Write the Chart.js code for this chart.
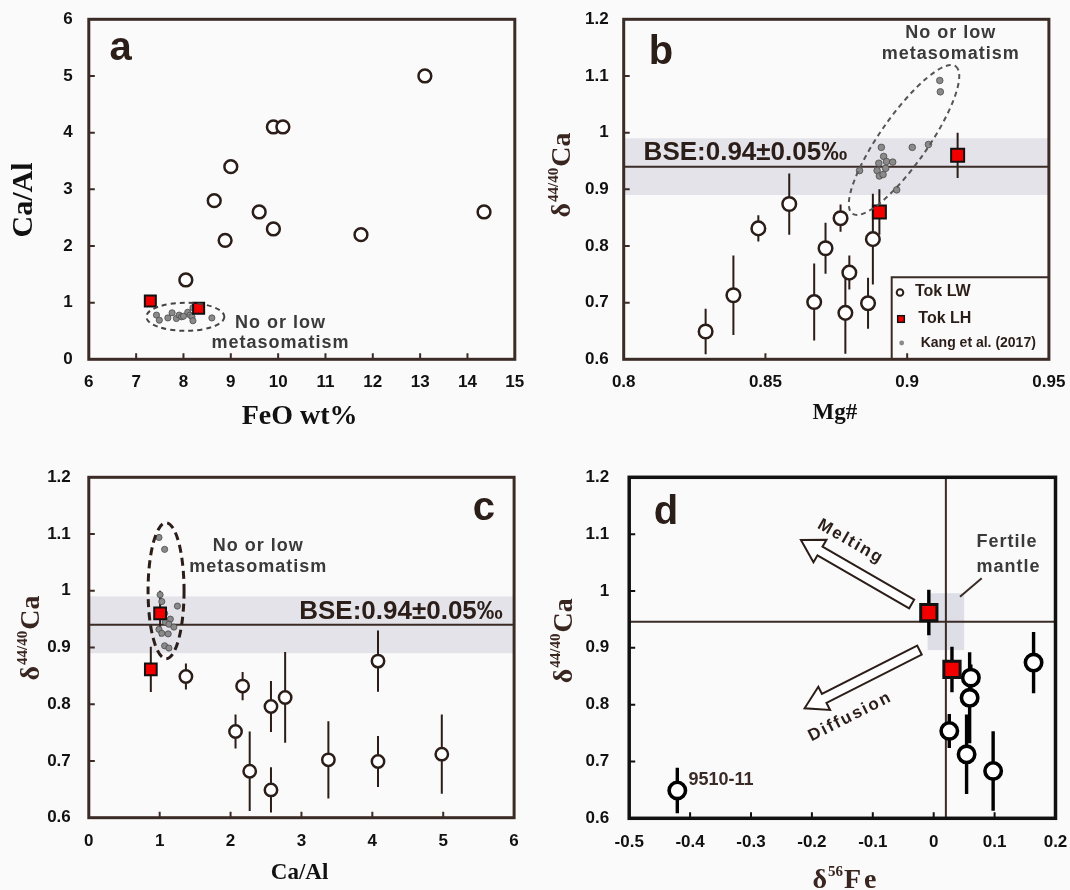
<!DOCTYPE html>
<html><head><meta charset="utf-8">
<script src="https://cdn.jsdelivr.net/npm/chart.js@4.4.1/dist/chart.umd.min.js"></script>
<style>
html,body{margin:0;padding:0;background:#fafafa;}
#wrap{position:relative;width:1070px;height:890px;overflow:hidden;background:#fafafa;}
canvas{position:absolute;}
</style></head><body>
<div id="wrap">
<canvas id="ca" width="535" height="445" style="left:0px;top:0px"></canvas>
<canvas id="cb" width="535" height="445" style="left:535px;top:0px"></canvas>
<canvas id="cc" width="535" height="445" style="left:0px;top:445px"></canvas>
<canvas id="cd" width="535" height="445" style="left:535px;top:445px"></canvas>
</div>
<script>
// ================= DATA =================
// Panel a : Ca/Al vs FeO wt%
const aXTicks=[6,7,8,9,10,11,12,13,14,15];
const aYTicks=[0,1,2,3,4,5,6];
const aLWFeO =[13.1,9.9,10.1,9.0,8.65,9.6,9.9,8.88,11.75,14.35,8.05];
const aLWCaAl=[5.0,4.1,4.1,3.4,2.8,2.6,2.3,2.1,2.2,2.6,1.4];
const aLHFeO =[7.3,8.32];
const aLHCaAl=[1.03,0.9];
const aKgFeO =[7.43,7.49,7.67,7.76,7.85,7.91,7.96,8.09,8.14,8.18,8.2,8.2,8.6,8.0];
const aKgCaAl=[0.78,0.69,0.73,0.82,0.72,0.78,0.75,0.83,0.78,0.75,0.91,0.68,0.73,0.76];

// Panel b : d44/40Ca vs Mg#
const bXTicks=[0.8,0.85,0.9,0.95];
const bYTicks=[0.6,0.7,0.8,0.9,1,1.1,1.2];
const bLWMg =[0.8289,0.8387,0.8475,0.8584,0.8672,0.8712,0.8765,0.8796,0.8782,0.8862,0.8879];
const bLWCa =[0.649,0.713,0.831,0.874,0.701,0.796,0.849,0.753,0.682,0.699,0.812];
const bLWErr=[0.04,0.07,0.023,0.054,0.068,0.045,0.024,0.03,0.072,0.045,0.08];
const bLHMg =[0.8902,0.9178];
const bLHCa =[0.86,0.96];
const bLHErr=[0.04,0.04];
const bKgMg =[0.9115,0.9117,0.8832,0.8909,0.8917,0.89,0.8927,0.8949,0.8894,0.8902,0.8915,0.8924,0.8963,0.9018,0.9075];
const bKgCa =[1.092,1.072,0.933,0.974,0.958,0.946,0.949,0.948,0.933,0.9235,0.926,0.937,0.899,0.974,0.979];

// Panel c : d44/40Ca vs Ca/Al
const cXTicks=[0,1,2,3,4,5,6];
const cYTicks=[0.6,0.7,0.8,0.9,1,1.1,1.2];
const cLWCaAl=[1.37,2.17,2.07,2.27,2.57,2.57,2.77,3.38,4.08,4.08,4.98];
const cLWCa  =[0.849,0.832,0.752,0.682,0.796,0.649,0.812,0.702,0.876,0.699,0.712];
const cLWErr =[0.023,0.025,0.03,0.07,0.045,0.04,0.08,0.068,0.054,0.045,0.07];
const cLHCaAl=[0.875,1.006];
const cLHCa  =[0.8615,0.96];
const cLHErr =[0.04,0.04];
const cKgCaAl=[0.99,1.07,1.006,1.03,1.07,1.25,1.15,1.08,1.13,0.99,1.03,1.12,1.2,1.07,1.13];
const cKgCa  =[1.094,1.073,0.993,0.981,0.96,0.973,0.95,0.945,0.941,0.932,0.925,0.924,0.936,0.903,0.899];

// Panel d : d44/40Ca vs d56Fe
const dXTicks=[-0.5,-0.4,-0.3,-0.2,-0.1,0,0.1,0.2];
const dYTicks=[0.6,0.7,0.8,0.9,1,1.1,1.2];
const dLWFe =[-0.421,0.0256,0.061,0.059,0.054,0.0976,0.164];
const dLWCa =[0.649,0.7537,0.8475,0.812,0.7126,0.6833,0.874];
const dLWErr=[0.04,0.03,0.023,0.08,0.07,0.07,0.054];
const dLHFe =[-0.008,0.030];
const dLHCa =[0.962,0.862];
const dLHErr=[0.04,0.04];

// reference values
const bseValue=0.94, bseLow=0.89, bseHigh=0.99;
const fertileFe=0.02, fertileCa=0.946;
const fertileBox=[-0.01,0.05,0.896,0.996];

// ================= STYLE / HELPERS =================
const SANS="'Liberation Sans', Arial, Helvetica, sans-serif";
const SERIF="'Liberation Serif', 'Times New Roman', Times, serif";
const BROWN='#3b2b26', DARK='#2b1d18', TXT='#3a3a3a', BAND='#e3e3e9';

function P(xs,ys){return xs.map((x,i)=>({x:x,y:ys[i]}));}
function lwSet(xs,ys,r,bw,col){return {label:'Tok LW',data:P(xs,ys),pointStyle:'circle',pointRadius:r,pointHoverRadius:r,backgroundColor:'#ffffff',borderColor:col,borderWidth:bw,order:2};}
function lhSet(xs,ys,r,bw){return {label:'Tok LH',data:P(xs,ys),pointStyle:'rect',pointRadius:r,pointHoverRadius:r,backgroundColor:'#f20000',borderColor:'#111111',borderWidth:bw,order:1};}
function kgSet(xs,ys,r){return {label:'Kang et al. (2017)',data:P(xs,ys),pointStyle:'circle',pointRadius:r,pointHoverRadius:r,backgroundColor:'#8a8a8a',borderColor:'#4a4a4a',borderWidth:0.8,order:3};}

function txt(ctx,s,x,y,font,color,align,ls,rot){
  ctx.save();ctx.translate(x,y);if(rot)ctx.rotate(rot);
  ctx.font=font;ctx.fillStyle=color;ctx.textAlign=align||'center';ctx.textBaseline='middle';
  if(ls){try{ctx.letterSpacing=ls;}catch(e){}}
  ctx.fillText(s,0,0);ctx.restore();
}
function errBars(c,xs,ys,es,col,w){
  const ctx=c.ctx,X=c.scales.x,Y=c.scales.y;ctx.save();ctx.strokeStyle=col;ctx.lineWidth=w;ctx.beginPath();
  xs.forEach((x,i)=>{const p=X.getPixelForValue(x);ctx.moveTo(p,Y.getPixelForValue(ys[i]-es[i]));ctx.lineTo(p,Y.getPixelForValue(ys[i]+es[i]));});
  ctx.stroke();ctx.restore();
}
function frame(c,col,lw,xt,yt){
  const ctx=c.ctx,a=c.chartArea,X=c.scales.x,Y=c.scales.y;ctx.save();ctx.strokeStyle=col;ctx.lineWidth=2;ctx.beginPath();
  xt.forEach(v=>{const p=X.getPixelForValue(v);if(p>a.left+3&&p<a.right-3){ctx.moveTo(p,a.bottom);ctx.lineTo(p,a.bottom-6);}});
  yt.forEach(v=>{const p=Y.getPixelForValue(v);if(p>a.top+3&&p<a.bottom-3){ctx.moveTo(a.left,p);ctx.lineTo(a.left+6,p);}});
  ctx.stroke();ctx.lineWidth=lw;ctx.strokeRect(a.left,a.top,a.right-a.left,a.bottom-a.top);ctx.restore();
}
function band(c,y0,y1,col){const ctx=c.ctx,a=c.chartArea,Y=c.scales.y;const p0=Y.getPixelForValue(y1),p1=Y.getPixelForValue(y0);ctx.save();ctx.fillStyle=col;ctx.fillRect(a.left,p0,a.right-a.left,p1-p0);ctx.restore();}
function hline(c,y,col,w){const ctx=c.ctx,a=c.chartArea,p=c.scales.y.getPixelForValue(y);ctx.save();ctx.strokeStyle=col;ctx.lineWidth=w;ctx.beginPath();ctx.moveTo(a.left,p);ctx.lineTo(a.right,p);ctx.stroke();ctx.restore();}
function vline(c,x,col,w){const ctx=c.ctx,a=c.chartArea,p=c.scales.x.getPixelForValue(x);ctx.save();ctx.strokeStyle=col;ctx.lineWidth=w;ctx.beginPath();ctx.moveTo(p,a.top);ctx.lineTo(p,a.bottom);ctx.stroke();ctx.restore();}
function ellipse(c,cx,cy,rx,ry,rot,col,w,dash){
  const ctx=c.ctx;ctx.save();ctx.strokeStyle=col;ctx.lineWidth=w;ctx.setLineDash(dash);ctx.beginPath();
  ctx.ellipse(c.scales.x.getPixelForValue(cx),c.scales.y.getPixelForValue(cy),rx,ry,rot,0,Math.PI*2);ctx.stroke();ctx.restore();
}
function blockArrow(c,x0,y0,x1,y1,sw,hw,hl,col){
  const ctx=c.ctx,X=c.scales.x,Y=c.scales.y;
  const tx=X.getPixelForValue(x0),ty=Y.getPixelForValue(y0),px=X.getPixelForValue(x1),py=Y.getPixelForValue(y1);
  const L=Math.hypot(px-tx,py-ty),ux=(px-tx)/L,uy=(py-ty)/L,nx=-uy,ny=ux;
  const bx=px-ux*hl,by=py-uy*hl;
  ctx.save();ctx.beginPath();
  ctx.moveTo(tx+nx*sw,ty+ny*sw);ctx.lineTo(bx+nx*sw,by+ny*sw);ctx.lineTo(bx+nx*hw,by+ny*hw);ctx.lineTo(px,py);
  ctx.lineTo(bx-nx*hw,by-ny*hw);ctx.lineTo(bx-nx*sw,by-ny*sw);ctx.lineTo(tx-nx*sw,ty-ny*sw);ctx.closePath();
  ctx.fillStyle='#ffffff';ctx.fill();ctx.strokeStyle=col;ctx.lineWidth=2;ctx.lineJoin='miter';ctx.stroke();ctx.restore();
}
// title with superscript: delta + sup + rest
function deltaTitle(ctx,cx,cy,sup,rest,big,small,rotate,color,restSpacing){
  ctx.save();ctx.translate(cx,cy);if(rotate)ctx.rotate(-Math.PI/2);
  const fb=`bold ${big}px ${SERIF}`,fs=`bold ${small}px ${SERIF}`;
  ctx.fillStyle=color;ctx.textAlign='left';ctx.textBaseline='alphabetic';
  ctx.font=fb;const w1=ctx.measureText('\u03b4').width;
  try{ctx.letterSpacing=restSpacing||'0px';}catch(e){}
  const w3=ctx.measureText(rest).width;
  try{ctx.letterSpacing='0px';}catch(e){}
  ctx.font=fs;const w2=ctx.measureText(sup).width;
  let x=-(w1+w2+w3)/2;const base=big*0.33;
  ctx.font=fb;ctx.fillText('\u03b4',x,base);x+=w1;
  ctx.font=fs;ctx.fillText(sup,x+1,base-big*0.42);x+=w2+2;
  ctx.font=fb;try{ctx.letterSpacing=restSpacing||'0px';}catch(e){}
  ctx.fillText(rest,x,base);
  ctx.restore();
}

function makePanel(id,off,area,xr,yr,xt,yt,datasets,deco,pad,tickSize){
  const W=535,H=445;
  return new Chart(document.getElementById(id),{
    type:'scatter',
    data:{datasets:datasets},
    options:{
      responsive:false,animation:false,devicePixelRatio:1,
      layout:{padding:{left:0,top:area.T-off[1],right:W-(area.R-off[0]),bottom:0}},
      plugins:{legend:{display:false},tooltip:{enabled:false}},
      scales:{
        x:{type:'linear',min:xr[0],max:xr[1],grid:{display:false,drawTicks:false},border:{display:false},
           afterBuildTicks:s=>{s.ticks=xt.map(v=>({value:v}));},
           ticks:{padding:pad.x,color:'#111',autoSkip:false,maxRotation:0,font:{family:SANS,size:tickSize,weight:'bold'},callback:v=>String(v)},
           afterFit:s=>{s.height=H-(area.B-off[1]);s.paddingLeft=0;s.paddingRight=0;}},
        y:{type:'linear',min:yr[0],max:yr[1],grid:{display:false,drawTicks:false},border:{display:false},
           afterBuildTicks:s=>{s.ticks=yt.map(v=>({value:v}));},
           ticks:{padding:pad.y,color:'#111',autoSkip:false,font:{family:SANS,size:tickSize,weight:'bold'},callback:v=>String(v)},
           afterFit:s=>{s.width=area.L-off[0];s.paddingTop=0;s.paddingBottom=0;}}
      }
    },
    plugins:[deco]
  });
}

// ================= PANEL A =================
const offA=[0,0];
makePanel('ca',offA,{L:88.8,R:514.8,T:19.3,B:359.3},[6,15],[0,6],aXTicks,aYTicks,
  [kgSet(aKgFeO,aKgCaAl,3.1),lwSet(aLWFeO,aLWCaAl,6.4,2.5,DARK),lhSet(aLHFeO,aLHCaAl,7.8,2)],
  {id:'decoA',
   afterDatasetsDraw(c){
     const ctx=c.ctx;
     ellipse(c,8.04,0.75,39,14,0,'#444',2,[5,4]);
     frame(c,BROWN,3,aXTicks,aYTicks);
     ctx.save();ctx.translate(-offA[0],-offA[1]);
     txt(ctx,'a',120.5,49,`bold 40px ${SANS}`,DARK);
     txt(ctx,'No or low',280.6,322.7,`bold 18px ${SANS}`,TXT,'center','1px');
     txt(ctx,'metasomatism',280.6,342.7,`bold 18px ${SANS}`,TXT,'center','1px');
     txt(ctx,'Ca/Al',24,200,`bold 30px ${SERIF}`,'#111','center',null,-Math.PI/2);
     txt(ctx,'FeO wt%',299.6,416.7,`bold 28px ${SERIF}`,'#111','center');
     ctx.restore();
   }},
  {x:13,y:16},17);

// ================= PANEL B =================
const offB=[535,0];
makePanel('cb',offB,{L:623.7,R:1048.9,T:19.3,B:359.3},[0.8,0.95],[0.6,1.2],bXTicks,bYTicks,
  [kgSet(bKgMg,bKgCa,3.3),lwSet(bLWMg,bLWCa,6.8,2.5,DARK),lhSet(bLHMg,bLHCa,9.2,2)],
  {id:'decoB',
   beforeDatasetsDraw(c){
     band(c,bseLow,bseHigh,BAND);
     hline(c,bseValue,BROWN,2);
     errBars(c,bLWMg,bLWCa,bLWErr,DARK,2);
     errBars(c,bLHMg,bLHCa,bLHErr,DARK,2);
   },
   afterDatasetsDraw(c){
     const ctx=c.ctx;
     ellipse(c,0.8989,0.987,90,24,-55*Math.PI/180,'#555',2,[5,4]);
     frame(c,BROWN,3,bXTicks,bYTicks);
     ctx.save();ctx.translate(-offB[0],-offB[1]);
     txt(ctx,'b',660.9,53.3,`bold 40px ${SANS}`,DARK);
     txt(ctx,'BSE:0.94\u00b10.05\u2030',643.6,153.3,`bold 26px ${SANS}`,DARK,'left');
     txt(ctx,'No or low',950.8,33.3,`bold 18px ${SANS}`,TXT,'center','1px');
     txt(ctx,'metasomatism',950.8,54,`bold 18px ${SANS}`,TXT,'center','1px');
     // legend
     ctx.strokeStyle=BROWN;ctx.lineWidth=2;ctx.beginPath();ctx.moveTo(891.7,359.3);ctx.lineTo(891.7,277.3);ctx.lineTo(1048.9,277.3);ctx.stroke();
     ctx.beginPath();ctx.arc(900,292.5,3.3,0,Math.PI*2);ctx.fillStyle='#fff';ctx.fill();ctx.lineWidth=2;ctx.strokeStyle=DARK;ctx.stroke();
     txt(ctx,'Tok LW',915,292,`bold 16px ${SANS}`,DARK,'left');
     ctx.fillStyle='#f20000';ctx.fillRect(897.7,315.7,6.6,6.6);ctx.lineWidth=1.5;ctx.strokeStyle='#111';ctx.strokeRect(897.7,315.7,6.6,6.6);
     txt(ctx,'Tok LH',918.3,319,`bold 16px ${SANS}`,DARK,'left');
     ctx.beginPath();ctx.arc(901.7,343,2.4,0,Math.PI*2);ctx.fillStyle='#8a8a8a';ctx.fill();
     txt(ctx,'Kang et al. (2017)',920.7,343.5,`bold 14px ${SANS}`,DARK,'left');
     deltaTitle(ctx,561,176,'44/40','Ca',28,15,true,'#3a2620');
     txt(ctx,'Mg#',834.8,413.3,`bold 23px ${SERIF}`,'#111','center');
     ctx.restore();
   }},
  {x:13,y:15},17);

// ================= PANEL C =================
const offC=[0,445];
makePanel('cc',offC,{L:88.8,R:514.1,T:477.3,B:817.7},[0,6],[0.6,1.2],cXTicks,cYTicks,
  [kgSet(cKgCaAl,cKgCa,3.1),lwSet(cLWCaAl,cLWCa,6.2,2.5,DARK),lhSet(cLHCaAl,cLHCa,8.3,2)],
  {id:'decoC',
   beforeDatasetsDraw(c){
     band(c,bseLow,bseHigh,BAND);
     hline(c,bseValue,BROWN,2);
     errBars(c,cLWCaAl,cLWCa,cLWErr,DARK,2);
     errBars(c,cLHCaAl,cLHCa,cLHErr,DARK,2);
   },
   afterDatasetsDraw(c){
     const ctx=c.ctx;
     ellipse(c,1.09,1.0,18,68,0,DARK,3,[8,5]);
     frame(c,BROWN,3,cXTicks,cYTicks);
     ctx.save();ctx.translate(-offC[0],-offC[1]);
     txt(ctx,'c',483.8,508.7,`bold 40px ${SANS}`,DARK);
     txt(ctx,'BSE:0.94\u00b10.05\u2030',502.8,611.7,`bold 26px ${SANS}`,DARK,'right');
     txt(ctx,'No or low',258.3,546,`bold 18px ${SANS}`,TXT,'center','1px');
     txt(ctx,'metasomatism',258.3,566.7,`bold 18px ${SANS}`,TXT,'center','1px');
     deltaTitle(ctx,29.3,639,'44/40','Ca',28,15,true,'#3a2620');
     txt(ctx,'Ca/Al',299.6,873.3,`bold 23px ${SERIF}`,'#111','center');
     ctx.restore();
   }},
  {x:13,y:18},17);

// ================= PANEL D =================
const offD=[535,445];
makePanel('cd',offD,{L:629.2,R:1057.5,T:477.3,B:818.3},[-0.5,0.2],[0.6,1.2],dXTicks,dYTicks,
  [lwSet(dLWFe,dLWCa,8.2,3.6,'#000'),lhSet(dLHFe,dLHCa,11.5,3)],
  {id:'decoD',
   beforeDatasetsDraw(c){
     const ctx=c.ctx,X=c.scales.x,Y=c.scales.y;
     const x0=X.getPixelForValue(fertileBox[0]),x1=X.getPixelForValue(fertileBox[1]),y0=Y.getPixelForValue(fertileBox[3]),y1=Y.getPixelForValue(fertileBox[2]);
     ctx.save();ctx.fillStyle='#dedee6';ctx.fillRect(x0,y0,x1-x0,y1-y0);ctx.restore();
     hline(c,fertileCa,BROWN,2);
     vline(c,fertileFe,BROWN,2);
     errBars(c,dLWFe,dLWCa,dLWErr,'#000',3.4);
     errBars(c,dLHFe,dLHCa,dLHErr,'#000',3.4);
     blockArrow(c,-0.0362,0.977,-0.218,1.0897,5,13,22,DARK);
     blockArrow(c,-0.0234,0.896,-0.212,0.7935,5,13,22,DARK);
   },
   afterDatasetsDraw(c){
     const ctx=c.ctx;
     frame(c,'#111',3.5,dXTicks,dYTicks);
     ctx.save();ctx.translate(-offD[0],-offD[1]);
     txt(ctx,'d',666,513.3,`bold 40px ${SANS}`,DARK);
     txt(ctx,'Melting',850.7,541.7,`bold 17px ${SANS}`,DARK,'center','2px',29.9*Math.PI/180);
     txt(ctx,'Diffusion',850.2,716.7,`bold 17px ${SANS}`,DARK,'center','2px',-26.8*Math.PI/180);
     txt(ctx,'Fertile',1007,541.7,`bold 18px ${SANS}`,TXT,'center','1px');
     txt(ctx,'mantle',1008.6,566.7,`bold 18px ${SANS}`,TXT,'center','1px');
     ctx.strokeStyle=BROWN;ctx.lineWidth=2;ctx.beginPath();ctx.moveTo(960,596.7);ctx.lineTo(981.7,578.3);ctx.stroke();
     txt(ctx,'9510-11',688.4,780,`bold 18px ${SANS}`,BROWN,'left');
     deltaTitle(ctx,562.7,641.7,'44/40','Ca',28,15,true,'#3a2620');
     deltaTitle(ctx,845,879,'56','Fe',28,15,false,'#3a2620','3px');
     ctx.restore();
   }},
  {x:14,y:20},17);
</script>
</body></html>
